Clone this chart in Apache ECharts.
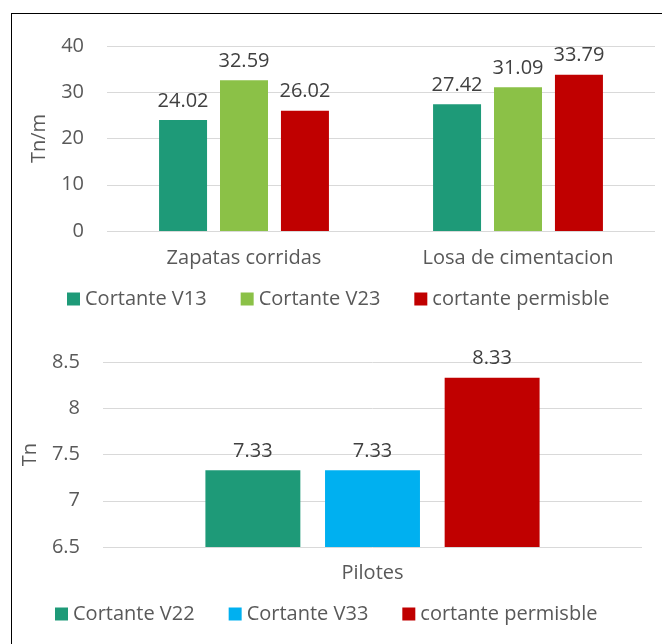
<!DOCTYPE html>
<html>
<head>
<meta charset="utf-8">
<script src="https://cdn.jsdelivr.net/npm/echarts@6/dist/echarts.min.js"></script>
<style>
  html, body { margin: 0; padding: 0; background: #fff; overflow: hidden; }
  #chart { position: absolute; left: 0; top: 0; width: 662px; height: 644px; }
  #frame { position: absolute; left: 11px; top: 13px; width: 700px; height: 700px; border: 1px solid #000; pointer-events: none; }
</style>
</head>
<body>
<div id="chart"></div>
<div id="frame"></div>
<script>
  // grafico superior (Tn/m)
  const topCategories = ['Zapatas corridas', 'Losa de cimentacion']
  const v13 = [24.02, 27.42]
  const v23 = [32.59, 31.09]
  const permTop = [26.02, 33.79]

  // grafico inferior (Tn)
  const bottomCategories = ['Pilotes']
  const v22 = [7.33]
  const v33 = [7.33]
  const permBottom = [8.33]

  const txt = '#595959'
  const font = 'Open Sans'
  const fs = 20

  let label = {
    show: true,
    position: 'top',
    distance: 9,
    color: '#404040',
    fontSize: fs,
    fontFamily: font
  }

  let chart = echarts.init(document.getElementById('chart'))

  chart.setOption({
    animation: false,
    textStyle: {fontFamily: font},
    legend: [
      {
        left: 62,
        top: 284,
        itemWidth: 13,
        itemHeight: 13,
        itemGap: 34,
        icon: 'rect',
        textStyle: {color: txt, fontSize: fs, fontFamily: font},
        data: ['Cortante V13', 'Cortante V23', 'cortante permisble']
      },
      {
        left: 50,
        top: 599,
        itemWidth: 13,
        itemHeight: 13,
        itemGap: 34,
        icon: 'rect',
        textStyle: {color: txt, fontSize: fs, fontFamily: font},
        data: ['Cortante V22', 'Cortante V33', 'cortante permisble']
      }
    ],
    grid: [
      {left: 107, right: 7, top: 46, height: 185},
      {left: 103, right: 20, top: 362, height: 185}
    ],
    xAxis: [
      {
        type: 'category',
        gridIndex: 0,
        data: topCategories,
        axisLine: {show: false},
        axisTick: {show: false},
        axisLabel: {color: txt, fontSize: fs, margin: 17, fontFamily: font}
      },
      {
        type: 'category',
        gridIndex: 1,
        data: bottomCategories,
        axisLine: {show: false},
        axisTick: {show: false},
        axisLabel: {color: txt, fontSize: fs, margin: 16, fontFamily: font}
      }
    ],
    yAxis: [
      {
        type: 'value',
        gridIndex: 0,
        min: 0,
        max: 40,
        interval: 10,
        name: 'Tn/m',
        nameLocation: 'middle',
        nameGap: 58,
        nameTextStyle: {color: txt, fontSize: fs, fontFamily: font},
        axisLabel: {color: txt, fontSize: fs, margin: 23, fontFamily: font},
        splitLine: {lineStyle: {color: '#d9d9d9'}}
      },
      {
        type: 'value',
        gridIndex: 1,
        min: 6.5,
        max: 8.5,
        interval: 0.5,
        name: 'Tn',
        nameLocation: 'middle',
        nameGap: 63,
        nameTextStyle: {color: txt, fontSize: fs, fontFamily: font},
        axisLabel: {color: txt, fontSize: fs, margin: 23, fontFamily: font},
        splitLine: {lineStyle: {color: '#d9d9d9'}}
      }
    ],
    series: [
      {
        name: 'Cortante V13', type: 'bar', xAxisIndex: 0, yAxisIndex: 0,
        barGap: '27%', barCategoryGap: '38%',
        itemStyle: {color: '#1E9A78'}, label: label, data: v13
      },
      {
        name: 'Cortante V23', type: 'bar', xAxisIndex: 0, yAxisIndex: 0,
        itemStyle: {color: '#8BC147'}, label: label, data: v23
      },
      {
        name: 'cortante permisble', type: 'bar', xAxisIndex: 0, yAxisIndex: 0,
        itemStyle: {color: '#C00000'}, label: label, data: permTop
      },
      {
        name: 'Cortante V22', type: 'bar', xAxisIndex: 1, yAxisIndex: 1,
        barGap: '26%', barCategoryGap: '38%',
        itemStyle: {color: '#1E9A78'}, label: label, data: v22
      },
      {
        name: 'Cortante V33', type: 'bar', xAxisIndex: 1, yAxisIndex: 1,
        itemStyle: {color: '#00B0F0'}, label: label, data: v33
      },
      {
        name: 'cortante permisble', type: 'bar', xAxisIndex: 1, yAxisIndex: 1,
        itemStyle: {color: '#C00000'}, label: label, data: permBottom
      }
    ]
  })
</script>
</body>
</html>
